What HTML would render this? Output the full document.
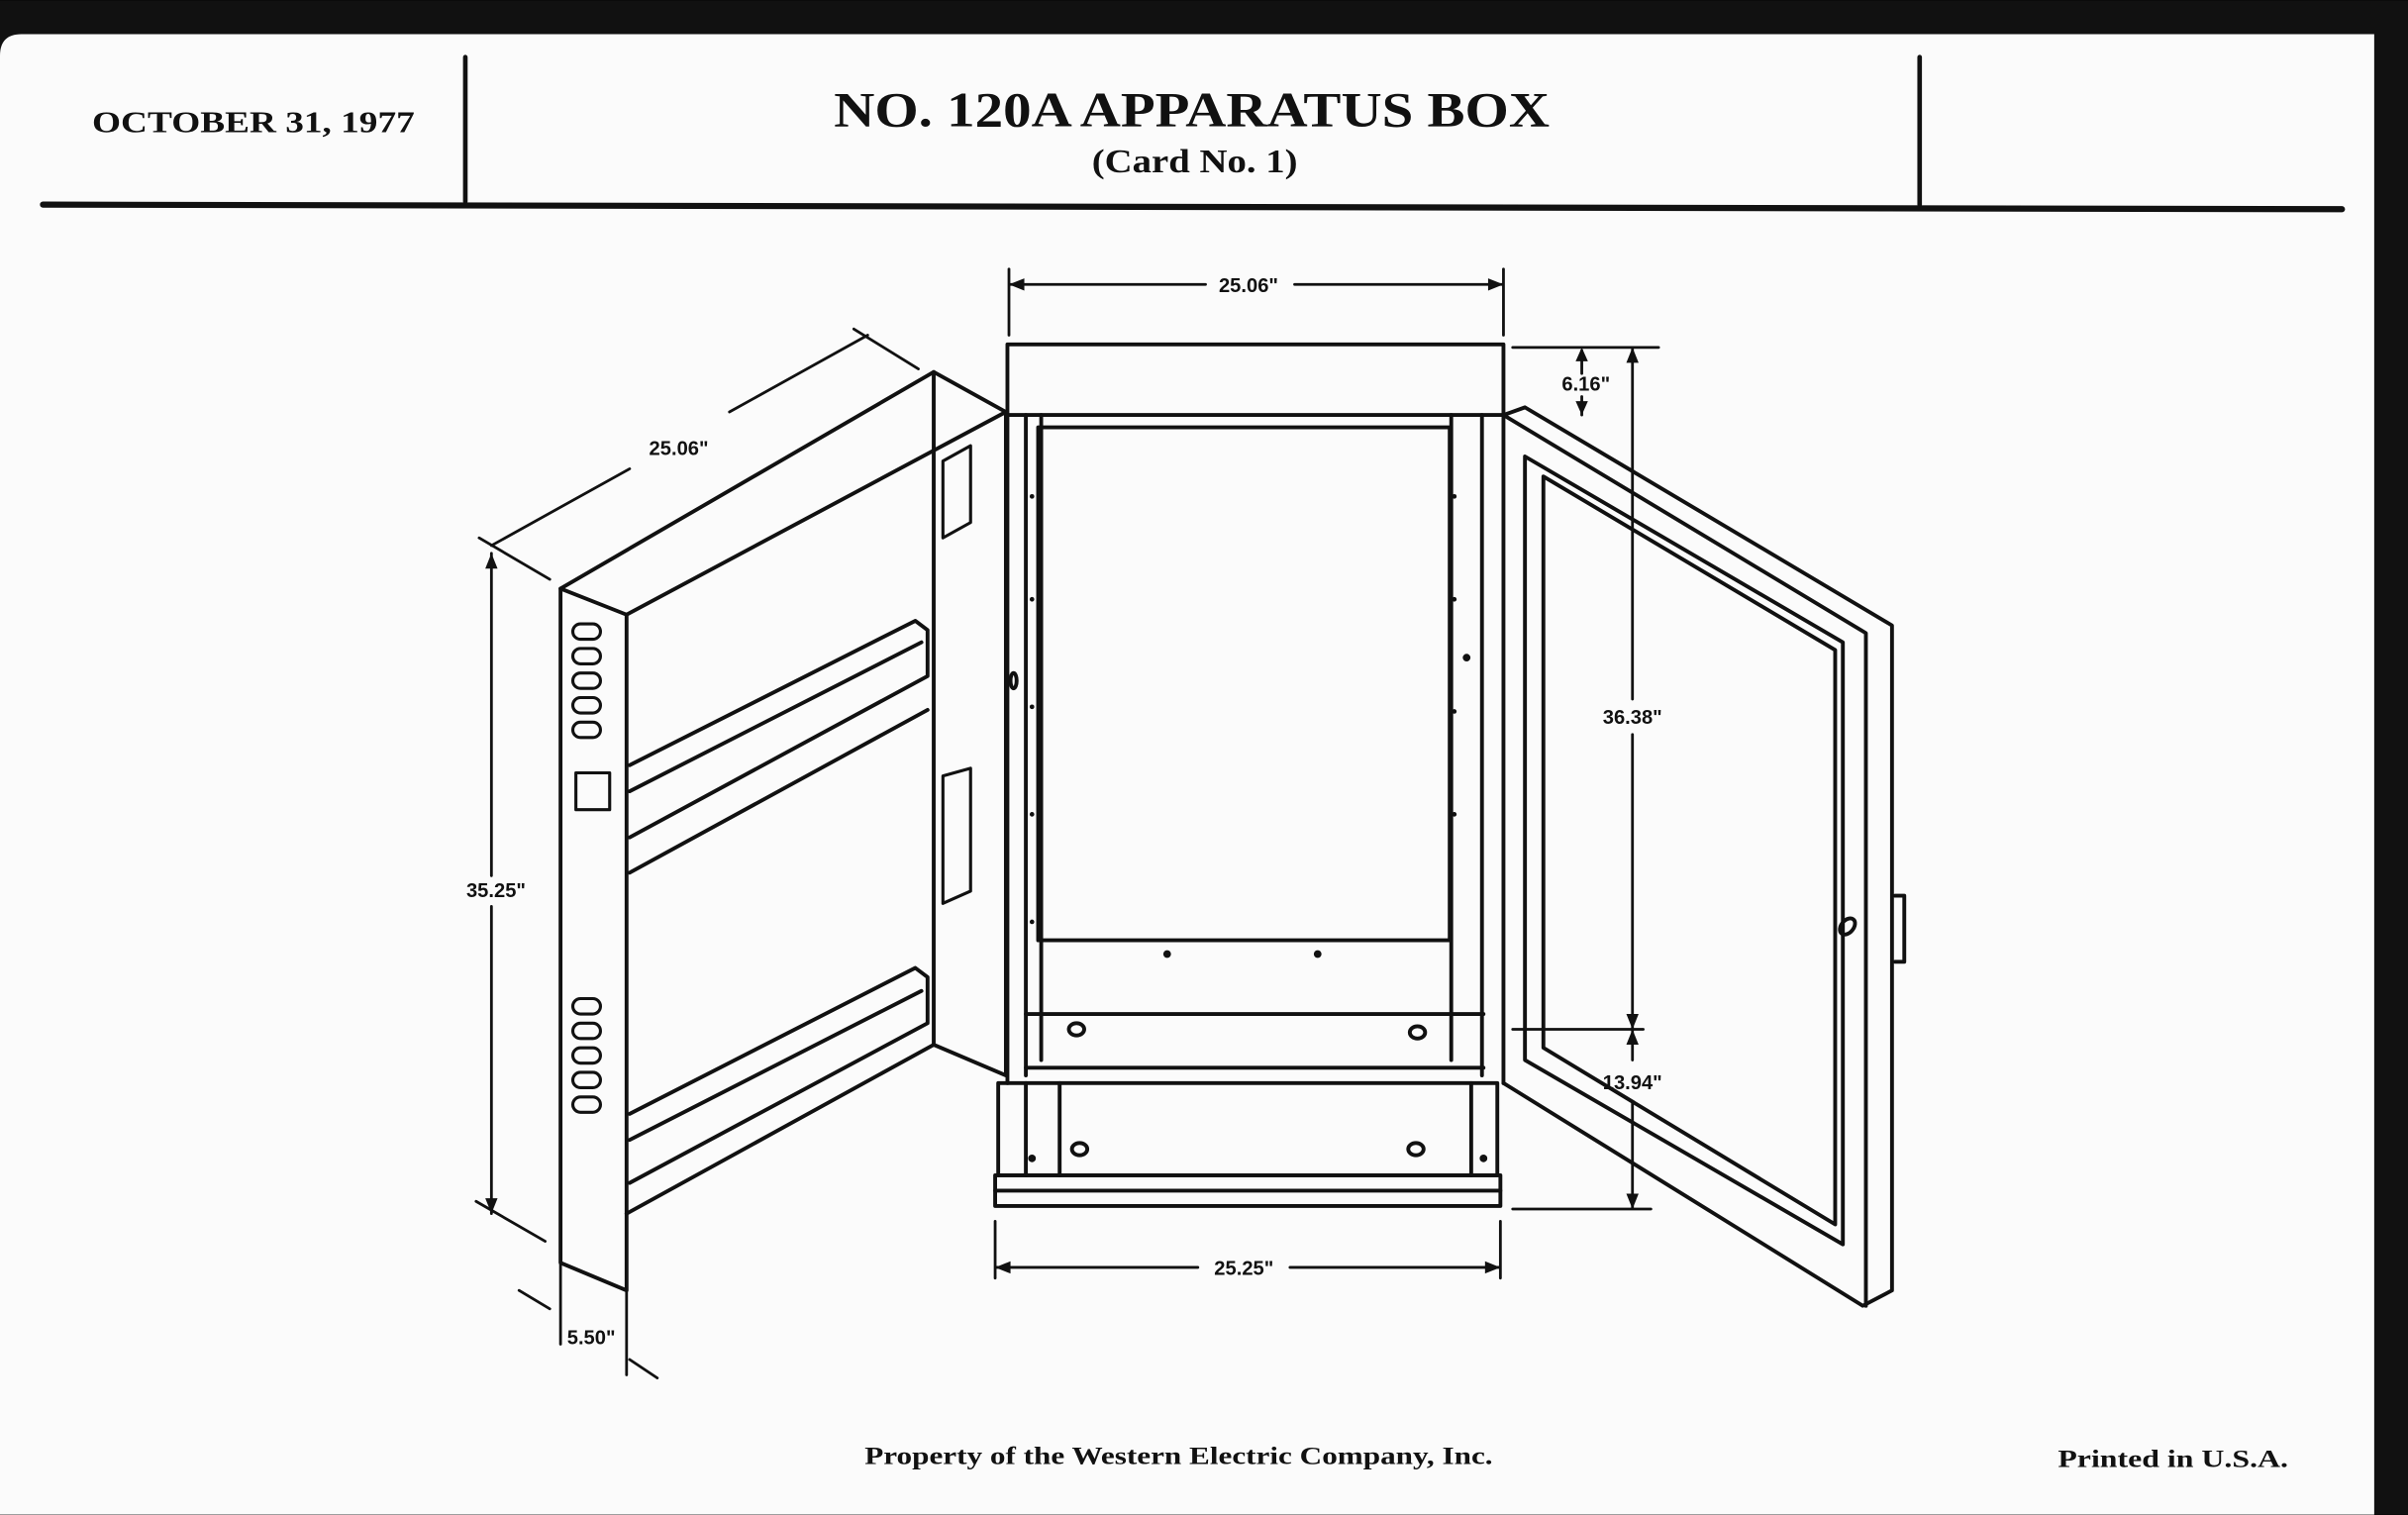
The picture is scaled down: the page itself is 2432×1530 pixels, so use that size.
<!DOCTYPE html>
<html><head><meta charset="utf-8"><style>
html,body{margin:0;padding:0;background:#000;}
svg{display:block;}
text{font-family:"Liberation Serif",serif;font-weight:bold;fill:#111;}
.d{font-family:"Liberation Sans",sans-serif;font-size:13px;font-weight:bold;}
</style></head><body>
<svg width="2432" height="1530" viewBox="0 0 1568 986" xmlns="http://www.w3.org/2000/svg">
<rect x="0" y="0" width="1568" height="986" fill="#111"/>
<path d="M14 22 H1546 V986 H0 V36 Q0 22 14 22Z" fill="#fbfbfb"/>
<g stroke="#111" fill="none" stroke-linejoin="round" stroke-linecap="round">
<line x1="28" y1="133" x2="1525" y2="136" stroke-width="4"/>
<line x1="303" y1="37" x2="303" y2="131" stroke-width="3"/>
<line x1="1250" y1="37" x2="1250" y2="133" stroke-width="3"/>

<g stroke-width="2.5">
<path d="M365 383 L608 242 L655 268 L408 400 Z"/>
<path d="M365 383 L365 822 L408 840 L408 400"/>
<path d="M608 242 L608 290 M608 290 L608 680 L655 700 L655 268"/>
<path d="M408 790 L608 680"/>
<path d="M410 498 L596 404 L604 410 L604 440 L410 545"/>
<path d="M410 515 L600 418"/>
<path d="M410 568 L604 462"/>
<path d="M410 725 L596 630 L604 636 L604 666 L410 770"/>
<path d="M410 742 L600 645"/>
<g stroke-width="2">
<rect x="373" y="406" width="18" height="10" rx="5"/><rect x="373" y="422" width="18" height="10" rx="5"/>
<rect x="373" y="438" width="18" height="10" rx="5"/><rect x="373" y="454" width="18" height="10" rx="5"/>
<rect x="373" y="470" width="18" height="10" rx="5"/>
<rect x="375" y="503" width="22" height="24"/>
<rect x="373" y="650" width="18" height="10" rx="5"/><rect x="373" y="666" width="18" height="10" rx="5"/>
<rect x="373" y="682" width="18" height="10" rx="5"/><rect x="373" y="698" width="18" height="10" rx="5"/>
<rect x="373" y="714" width="18" height="10" rx="5"/>
<path d="M614 300 L632 290 L632 340 L614 350Z M614 505 L632 500 L632 580 L614 588Z"/>
</g>
</g>

<g stroke-width="2.5">
<rect x="656" y="224" width="323" height="46"/>
<path d="M656 270 V705 M668 270 V700 M678 270 V690 M979 270 V705 M965 270 V700 M945 270 V690"/>
<rect x="676" y="278" width="268" height="334"/>
<path d="M668 660 H966 M668 695 H966"/>
<rect x="650" y="705" width="325" height="60"/>
<path d="M668 705 V765 M690 705 V765 M958 705 V765"/>
<rect x="648" y="765" width="329" height="20"/>
<path d="M648 775 H977"/>
<ellipse cx="701" cy="670" rx="5" ry="4"/><ellipse cx="923" cy="672" rx="5" ry="4"/>
<ellipse cx="703" cy="748" rx="5" ry="4"/><ellipse cx="922" cy="748" rx="5" ry="4"/>
<ellipse cx="660" cy="443" rx="2" ry="5"/>
</g>
<g fill="#111" stroke="none">
<circle cx="760" cy="621" r="2.5"/><circle cx="858" cy="621" r="2.5"/>
<circle cx="672" cy="323" r="1.5"/><circle cx="672" cy="390" r="1.5"/><circle cx="672" cy="460" r="1.5"/><circle cx="672" cy="530" r="1.5"/><circle cx="672" cy="600" r="1.5"/>
<circle cx="947" cy="323" r="1.5"/><circle cx="947" cy="390" r="1.5"/><circle cx="955" cy="428" r="2.5"/><circle cx="947" cy="463" r="1.5"/><circle cx="947" cy="530" r="1.5"/>
<circle cx="672" cy="754" r="2.5"/><circle cx="966" cy="754" r="2.5"/>
</g>

<g stroke-width="2.5">
<path d="M979 270 L993 265 L1232 407 L1232 840 L1213 850 L979 705"/>
<path d="M979 270 L1215 412 L1215 850"/>
<path d="M993 297 L1200 418 L1200 810 L993 690 Z"/>
<path d="M1005 310 L1195 423 L1195 797 L1005 682 Z"/>
<path d="M1234 583 L1240 583 L1240 626 L1234 626"/>
<ellipse cx="1203" cy="603" rx="4" ry="6" transform="rotate(40 1203 603)"/>
</g>

<g stroke-width="1.8">
<path d="M657 175 V218 M979 175 V218 M657 185 H785 M843 185 H979"/>
<path d="M985 226 H1080 M1063 226 V455 M1063 478 V690 M1063 718 V787 M985 787 H1075 M985 670 H1070"/>
<path d="M1030 228 V243 M1030 258 V270"/>
<path d="M648 795 V832 M977 795 V832 M648 825 H780 M840 825 H977"/>
<path d="M320 360 V570 M320 590 V790 M312 350 L358 377 M310 782 L355 808"/>
<path d="M320 355 L410 305 M475 268 L565 218 M556 214 L598 240"/>
<path d="M365 822 V875 M408 840 V895 M338 840 L358 852 M410 885 L428 897"/>
</g>
<g fill="#111" stroke="none">
<path d="M657 185 l10 -4 v8z M979 185 l-10 -4 v8z M648 825 l10 -4 v8z M977 825 l-10 -4 v8z"/>
<path d="M1063 226 l-4 10 h8z M1063 787 l-4 -10 h8z M1063 670 l-4 -10 h8z M1063 670 l-4 10 h8z"/>
<path d="M1030 226 l-4 9 h8z M1030 270 l-4 -9 h8z"/>
<path d="M320 360 l-4 10 h8z M320 790 l-4 -10 h8z"/>
</g>
</g>

<text x="60" y="86" font-size="20" textLength="210" lengthAdjust="spacingAndGlyphs">OCTOBER 31, 1977</text>
<text x="543" y="82" font-size="32" textLength="466" lengthAdjust="spacingAndGlyphs">NO. 120A  APPARATUS  BOX</text>
<text x="711" y="112" font-size="22" textLength="134" lengthAdjust="spacingAndGlyphs">(Card No. 1)</text>

<text class="d" x="813" y="190" text-anchor="middle">25.06"</text>
<text class="d" x="1017" y="254">6.16"</text>
<text class="d" x="1063" y="471" text-anchor="middle">36.38"</text>
<text class="d" x="1063" y="709" text-anchor="middle">13.94"</text>
<text class="d" x="810" y="830" text-anchor="middle">25.25"</text>
<text class="d" x="323" y="584" text-anchor="middle">35.25"</text>
<text class="d" x="442" y="296" text-anchor="middle">25.06"</text>
<text class="d" x="385" y="875" text-anchor="middle">5.50"</text>

<text x="563" y="953" font-size="16" textLength="409" lengthAdjust="spacingAndGlyphs">Property of the Western Electric Company, Inc.</text>
<text x="1340" y="955" font-size="16" textLength="150" lengthAdjust="spacingAndGlyphs">Printed in U.S.A.</text>
</svg>
</body></html>
